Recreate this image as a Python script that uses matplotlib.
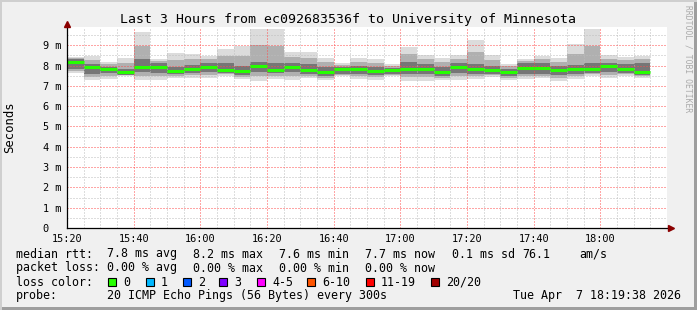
#!/usr/bin/env python3
"""
plot.py — SmokePing style "Last 3 Hours" latency graph, redrawn with matplotlib.

Writes out.png (697x310 px).
"""

from datetime import datetime, timedelta

import numpy as np
import matplotlib
matplotlib.use("Agg")
import matplotlib.pyplot as plt
import matplotlib.dates as mdates
from matplotlib.patches import Rectangle


# ---------------------------------------------------------------------------
# Data (ms) — one entry per 5 minute step starting 15:20
# ---------------------------------------------------------------------------

START = datetime(2026, 4, 7, 15, 20)
STEP_MIN = 5

median_ms = [8.18, 7.93, 7.84, 7.67, 7.92, 7.92, 7.74, 7.84, 7.92, 7.80,
             7.74, 7.98, 7.79, 7.93, 7.79, 7.69, 7.84, 7.83, 7.74, 7.79,
             7.82, 7.84, 7.66, 7.93, 7.84, 7.77, 7.69, 7.89, 7.89, 7.77,
             7.84, 7.84, 7.97, 7.84, 7.69]
max_ms = [8.43, 8.45, 8.20, 8.37, 9.66, 8.30, 8.62, 8.56, 8.46, 8.82,
          8.97, 9.79, 9.79, 8.66, 8.65, 8.37, 8.13, 8.38, 8.34, 8.10,
          8.92, 8.51, 8.37, 8.51, 9.25, 8.51, 8.10, 8.34, 8.46, 8.35,
          9.08, 9.79, 8.51, 8.44, 8.45]
min_ms = [7.62, 7.27, 7.36, 7.48, 7.30, 7.28, 7.39, 7.40, 7.40, 7.48,
          7.33, 7.26, 7.36, 7.31, 7.38, 7.28, 7.48, 7.36, 7.28, 7.48,
          7.25, 7.25, 7.31, 7.31, 7.36, 7.44, 7.28, 7.36, 7.41, 7.25,
          7.36, 7.48, 7.41, 7.48, 7.41]
upper_q_ms = [8.30, 8.10, 7.95, 7.85, 8.30, 8.15, 7.95, 8.05, 8.15, 8.15,
              8.00, 8.20, 8.15, 8.15, 8.10, 7.95, 7.95, 8.00, 7.95, 7.90,
              8.20, 8.10, 7.95, 8.15, 8.10, 8.00, 7.85, 8.15, 8.15, 8.00,
              8.05, 8.15, 8.15, 8.10, 8.15]
lower_q_ms = [7.85, 7.60, 7.65, 7.55, 7.70, 7.65, 7.60, 7.65, 7.70, 7.65,
              7.55, 7.70, 7.65, 7.70, 7.60, 7.50, 7.60, 7.60, 7.55, 7.60,
              7.60, 7.60, 7.50, 7.65, 7.60, 7.60, 7.50, 7.60, 7.60, 7.55,
              7.60, 7.65, 7.70, 7.65, 7.55]

y_ticks = [0, 1, 2, 3, 4, 5, 6, 7, 8, 9]
y_tick_labels = ["0", "1 m", "2 m", "3 m", "4 m", "5 m", "6 m", "7 m", "8 m", "9 m"]
x_tick_labels = ["15:20", "15:40", "16:00", "16:20", "16:40",
                 "17:00", "17:20", "17:40", "18:00"]

loss_labels = ["0", "1", "2", "3", "4-5", "6-10", "11-19", "20/20"]
loss_colors = ["#26ff00", "#00b8ff", "#0059ff", "#7e00ff",
               "#ff00ff", "#ff5500", "#ff0000", "#a00000"]

TITLE = "Last 3 Hours from ec092683536f to University of Minnesota"


# ---------------------------------------------------------------------------
# Layout helpers (pixel coords, origin top-left)
# ---------------------------------------------------------------------------

W, H = 697, 310
MONO = "DejaVu Sans Mono"


def fx(px):
    return px / W


def fy(py):
    return 1 - py / H


def ftext(fig, x, y, s, **kw):
    kw.setdefault("family", MONO)
    kw.setdefault("fontsize", 8.4)
    kw.setdefault("va", "center")
    fig.text(fx(x), fy(y), s, **kw)


# ---------------------------------------------------------------------------
# Figure
# ---------------------------------------------------------------------------

fig = plt.figure(figsize=(W / 100, H / 100), dpi=100, facecolor="#f0f0f0")

# 3D-ish frame around the image
fig.add_artist(Rectangle((fx(694), 0), fx(3), 1, transform=fig.transFigure,
                         color="#9e9e9e", lw=0))
fig.add_artist(Rectangle((0, 0), 1, 3 / H, transform=fig.transFigure,
                         color="#9e9e9e", lw=0))
fig.add_artist(Rectangle((0, fy(2)), 1, 2 / H, transform=fig.transFigure,
                         color="#cfcfcf", lw=0))
fig.add_artist(Rectangle((0, 0), fx(2), 1, transform=fig.transFigure,
                         color="#cfcfcf", lw=0))

ax_l, ax_r, ax_t, ax_b = 67, 667, 27, 228
ax = fig.add_axes([fx(ax_l), fy(ax_b), fx(ax_r - ax_l), (ax_b - ax_t) / H])
ax.set_facecolor("white")

times = [START + timedelta(minutes=STEP_MIN * i) for i in range(len(median_ms))]
tnum = mdates.date2num(times)
wnum = STEP_MIN / 1440

med = np.array(median_ms)
hi = np.array(max_ms)
lo = np.array(min_ms)
q_hi = np.array(upper_q_ms)
q_lo = np.array(lower_q_ms)

# Smoke: outer spread, a half-way band, then the inner core
ax.bar(tnum, hi - lo, bottom=lo, width=wnum, align="edge",
       color="#dcdcdc", lw=0, zorder=1)
ax.bar(tnum, (hi + q_hi) / 2 - (lo + q_lo) / 2, bottom=(lo + q_lo) / 2,
       width=wnum, align="edge", color="#b0b0b0", lw=0, zorder=1.1)
ax.bar(tnum, q_hi - q_lo, bottom=q_lo, width=wnum, align="edge",
       color="#767676", lw=0, zorder=1.2)

# Median, coloured by loss (all 0 % here)
ax.hlines(med, tnum, tnum + wnum, colors=loss_colors[0], lw=2.2, zorder=3)

ax.set_xlim(mdates.date2num(START), mdates.date2num(START + timedelta(hours=3)))
ax.set_ylim(0, 9.9)

# Ticks and grid
x_major = [START + timedelta(minutes=20 * k) for k in range(len(x_tick_labels))]
ax.set_xticks(mdates.date2num(x_major))
ax.set_xticklabels(x_tick_labels)
ax.xaxis.set_minor_locator(mdates.MinuteLocator(byminute=range(0, 60, 5)))
ax.set_yticks(y_ticks)
ax.set_yticklabels(y_tick_labels)
ax.set_yticks(np.arange(0.5, 9.9, 0.5), minor=True)

ax.set_axisbelow(False)
ax.grid(which="minor", color="#bdbdbd", lw=0.72, ls=(0, (1, 2)))
ax.grid(which="major", color=(1, 0.3, 0.3, 0.42), lw=0.72, ls=(0, (1, 2)))

ax.tick_params(which="both", length=0)
ax.tick_params(axis="x", pad=4, labelsize=7.4)
ax.tick_params(axis="y", pad=17.5, labelsize=7.4)
for lbl in ax.get_xticklabels() + ax.get_yticklabels():
    lbl.set_family(MONO)
for lbl in ax.get_yticklabels():
    lbl.set_horizontalalignment("left")

for side in ("top", "right"):
    ax.spines[side].set_visible(False)
for side in ("left", "bottom"):
    ax.spines[side].set_color("black")
    ax.spines[side].set_linewidth(0.9)
    ax.spines[side].set_zorder(4)

# Axis arrows
ax.plot([1.006], [0], transform=ax.transAxes, marker=">", ms=5,
        color="#8b0000", clip_on=False, zorder=5)
ax.plot([0], [1.015], transform=ax.transAxes, marker="^", ms=5,
        color="#8b0000", clip_on=False, zorder=5)
ax.plot([0, 0], [1.0, 1.015], transform=ax.transAxes, color="black",
        lw=0.9, clip_on=False, zorder=4)

# Titles
ftext(fig, 348, 19, TITLE, ha="center", fontsize=9.5)
ftext(fig, 10, 127, "Seconds", ha="center", rotation=90, fontsize=8.8)
ftext(fig, 688, 59, "RRDTOOL / TOBI OETIKER", ha="center", rotation=-90,
      fontsize=5.8, color="#aaaaaa")

# ---------------------------------------------------------------------------
# Legend block
# ---------------------------------------------------------------------------

cols = [107, 193, 279, 365, 452, 522, 579]
row1 = ["7.8 ms avg", "8.2 ms max", "7.6 ms min", "7.7 ms now",
        "0.1 ms sd", "76.1", "am/s"]
row2 = ["0.00 % avg", "0.00 % max", "0.00 % min", "0.00 % now"]

ftext(fig, 16, 254, "median rtt:")
for x, s in zip(cols, row1):
    ftext(fig, x, 254, s)

ftext(fig, 16, 268, "packet loss:")
for x, s in zip(cols, row2):
    ftext(fig, x, 268, s)

ftext(fig, 16, 282, "loss color:")
box_x = [108, 146, 183, 219, 257, 307, 366, 431]
for x, lab, col in zip(box_x, loss_labels, loss_colors):
    fig.add_artist(Rectangle((fx(x), fy(286)), fx(8), 8 / H,
                             transform=fig.transFigure, facecolor=col,
                             edgecolor="black", lw=0.8))
    ftext(fig, x + 15, 282, lab)

ftext(fig, 16, 296, "probe:")
ftext(fig, 107, 296, "20 ICMP Echo Pings (56 Bytes) every 300s")
ftext(fig, 513, 296, "Tue Apr  7 18:19:38 2026")

fig.savefig("out.png", dpi=100, facecolor=fig.get_facecolor())
plt.close(fig)
